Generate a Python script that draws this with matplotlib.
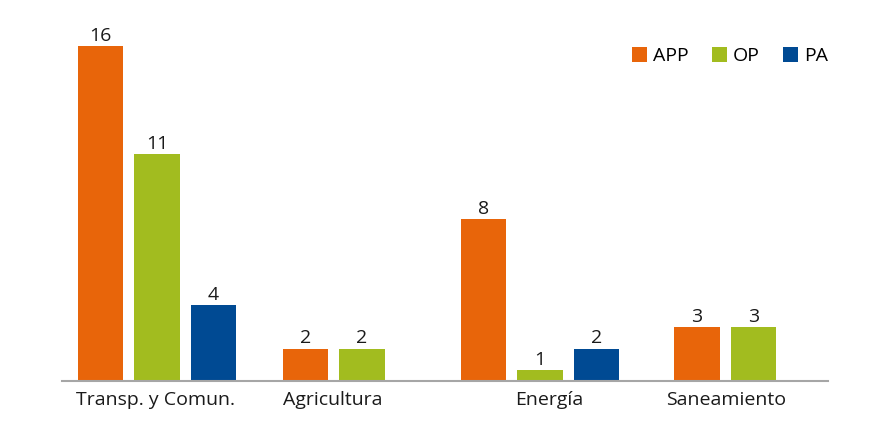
import numpy as np
import matplotlib.pyplot as plt

plt.rcParams['font.family'] = ['Open Sans', 'DejaVu Sans']

categories = ["Transp. y Comun.", "Agricultura", "Energía", "Saneamiento"]
series = ["APP", "OP", "PA"]
app = [16, 2, 8, 3]
op = [11, 2, 1, 3]
pa = [4, None, 2, None]

colors = ["#E8650A", "#A2BC1F", "#004A93"]

# layout: group centres and label centres in bar-pitch units (uneven in the original)
centers = [1.68, 4.81, 8.46, 11.74]
label_pos = [1.66, 4.80, 8.62, 11.75]
width = 0.81

fig = plt.figure(figsize=(8.74, 4.22), dpi=100)
ax = fig.add_axes([62 / 874, 41 / 422, 766 / 874, 357 / 422])

values = [app, op, pa]
for ci, c in enumerate(centers):
    present = [si for si in range(3) if values[si][ci] is not None]
    n = len(present)
    for k, si in enumerate(present):
        x = c + (k - (n - 1) / 2)
        v = values[si][ci]
        ax.bar(x, v, width=width, color=colors[si],
               label=series[si] if ci == 0 else None)
        ax.text(x, v + 0.05, str(v), ha="center", va="bottom",
                fontsize=14, color="#1a1a1a")

ax.set_xlim(0, 766 / 56.5)
ax.set_ylim(0.5, 17)
ax.set_xticks(label_pos)
ax.set_xticklabels(categories, fontsize=14, color="#1a1a1a")
ax.tick_params(axis="x", length=0, pad=7)
ax.set_yticks([])
for s in ["top", "right", "left"]:
    ax.spines[s].set_visible(False)
ax.spines["bottom"].set_color("#A6A6A6")
ax.spines["bottom"].set_linewidth(1.5)

ax.legend(loc="center right", bbox_to_anchor=(1.0, 0.91), ncol=3, frameon=False,
          fontsize=14, handlelength=0.77, handleheight=0.77, handletextpad=0.3,
          columnspacing=1.2, borderpad=0, borderaxespad=0)

fig.savefig("out.png", dpi=100)
